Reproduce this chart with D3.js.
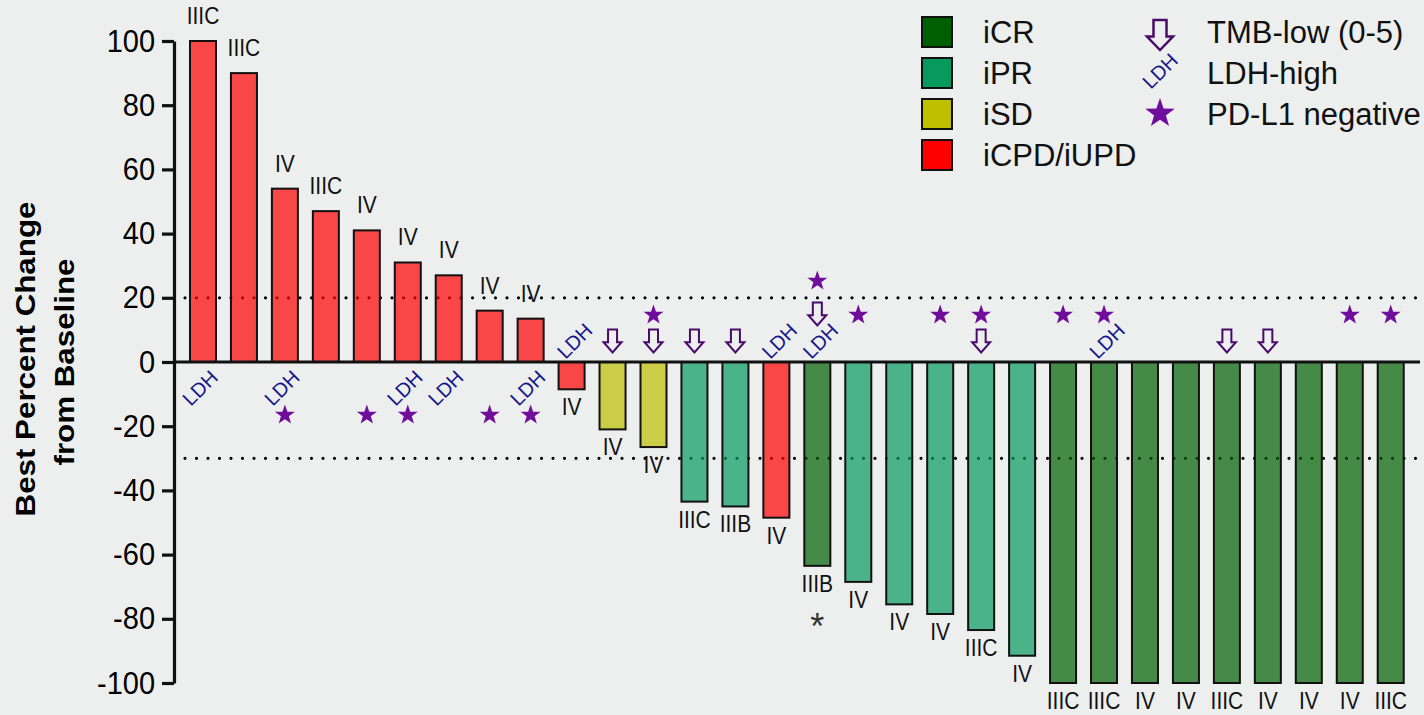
<!DOCTYPE html>
<html>
<head>
<meta charset="utf-8">
<script src="https://cdn.jsdelivr.net/npm/d3@7"></script>
<style>
  html, body { margin: 0; padding: 0; background: #ecefee; }
  svg { display: block; font-family: "Liberation Sans", Arial, Helvetica, sans-serif; }
</style>
</head>
<body>
<svg id="chart" width="1424" height="715"></svg>
<script>
// ---- data: best percent change per patient, sorted as in the waterfall ----
const bestChange = [100, 90, 54, 47, 41, 31, 27, 16, 13.5, -8.5,
                    -21, -26.5, -43.5, -45, -48.5, -63.5, -68.5, -75.5, -78.5, -83.5,
                    -91.5, -100, -100, -100, -100, -100, -100, -100, -100, -100];
const response = ["iCPD/iUPD", "iCPD/iUPD", "iCPD/iUPD", "iCPD/iUPD", "iCPD/iUPD",
                  "iCPD/iUPD", "iCPD/iUPD", "iCPD/iUPD", "iCPD/iUPD", "iCPD/iUPD",
                  "iSD", "iSD", "iPR", "iPR", "iCPD/iUPD",
                  "iCR", "iPR", "iPR", "iPR", "iPR",
                  "iPR", "iCR", "iCR", "iCR", "iCR",
                  "iCR", "iCR", "iCR", "iCR", "iCR"];
const stage = ["IIIC", "IIIC", "IV", "IIIC", "IV", "IV", "IV", "IV", "IV", "IV",
               "IV", "IV", "IIIC", "IIIB", "IV", "IIIB", "IV", "IV", "IV", "IIIC",
               "IV", "IIIC", "IIIC", "IV", "IV", "IIIC", "IV", "IV", "IV", "IIIC"];
const footnote = ["", "", "", "", "", "", "", "", "", "",
                  "", "", "", "", "", "*", "", "", "", "",
                  "", "", "", "", "", "", "", "", "", ""];
const ldhHigh = [1, 0, 1, 0, 0, 1, 1, 0, 1, 1,
                 0, 0, 0, 0, 1, 1, 0, 0, 0, 0,
                 0, 0, 1, 0, 0, 0, 0, 0, 0, 0];
const tmbLow  = [0, 0, 0, 0, 0, 0, 0, 0, 0, 0,
                 1, 1, 1, 1, 0, 1, 0, 0, 0, 1,
                 0, 0, 0, 0, 0, 1, 1, 0, 0, 0];
const pdl1Neg = [0, 0, 1, 0, 1, 1, 0, 1, 1, 0,
                 0, 1, 0, 0, 0, 1, 1, 0, 1, 1,
                 0, 1, 1, 0, 0, 0, 0, 0, 1, 1];
const yTicks = [100, 80, 60, 40, 20, 0, -20, -40, -60, -80, -100];
const thresholds = [20, -30];
const responseKeys = ["iCR", "iPR", "iSD", "iCPD/iUPD"];
const responseColors = ["#005f00", "#079a5e", "#bfbf00", "#ff0000"];

// ---- layout ----
const svg = d3.select("#chart");
svg.append("rect").attr("width", 1424).attr("height", 715).attr("fill", "#ecefee");

const axisX = 174;
const y = d3.scaleLinear().domain([-100, 100]).range([683, 41]);
const x = d3.scaleBand().domain(d3.range(bestChange.length))
  .range([177.7, 1416]).paddingInner(0.365).paddingOuter(0.3);
const color = d3.scaleOrdinal().domain(responseKeys).range(responseColors);
const y0 = y(0);
const cx = i => x(i) + x.bandwidth() / 2;

const ink = "#111";
const ldhColor = "#14148c";
const starColor = "#700e9c";
const arrowColor = "#4a0a6a";

// dotted reference lines (behind the translucent bars)
svg.append("g").selectAll("line").data(thresholds).join("line")
  .attr("x1", 185).attr("x2", 1420)
  .attr("y1", d => y(d)).attr("y2", d => y(d))
  .attr("stroke", "#000").attr("stroke-width", 3.2)
  .attr("stroke-linecap", "round").attr("stroke-dasharray", "0 11.5");

// bars
svg.append("g").selectAll("rect").data(bestChange).join("rect")
  .attr("x", (d, i) => x(i))
  .attr("width", x.bandwidth())
  .attr("y", d => Math.min(y(d), y0))
  .attr("height", d => Math.abs(y(d) - y0))
  .attr("fill", (d, i) => color(response[i]))
  .attr("fill-opacity", 0.7)
  .attr("stroke", ink).attr("stroke-width", 2);

// y axis
const yAxis = svg.append("g").attr("transform", `translate(${axisX},0)`)
  .call(d3.axisLeft(y).tickValues(yTicks).tickFormat(d => String(d))
    .tickSize(12).tickSizeOuter(0).tickPadding(7));
yAxis.select(".domain").attr("stroke", ink).attr("stroke-width", 3.2);
yAxis.selectAll(".tick line").attr("stroke", ink).attr("stroke-width", 3.2);
yAxis.selectAll(".tick text")
  .attr("font-size", 29).attr("fill", "#000")
  .attr("font-family", '"Liberation Sans", Arial, sans-serif')
  .attr("transform", "scale(1,1.08)");

// zero line
svg.append("line").attr("x1", axisX).attr("x2", 1420)
  .attr("y1", y0).attr("y2", y0)
  .attr("stroke", ink).attr("stroke-width", 3.2);

// y-axis title
const title = svg.append("g").attr("font-weight", "bold").attr("font-size", 27)
  .attr("text-anchor", "middle").attr("fill", "#000");
title.append("text").attr("transform", "translate(35,359) rotate(-90) scale(1.16,1)")
  .text("Best Percent Change");
title.append("text").attr("transform", "translate(74,362) rotate(-90) scale(1.16,1)")
  .text("from Baseline");

// stage labels
const stageG = svg.append("g").attr("font-size", 21).attr("text-anchor", "middle").attr("fill", "#111");
stage.forEach((s, i) => {
  const v = bestChange[i];
  const base = v >= 0 ? y(v) - 17 : y(v) + 26;
  stageG.append("text")
    .attr("transform", `translate(${cx(i)},${base}) scale(1,1.15)`)
    .text(s);
  if (footnote[i]) {
    stageG.append("text")
      .attr("transform", `translate(${cx(i)},${base + 47})`)
      .attr("font-size", 36).attr("fill", "#333")
      .text(footnote[i]);
  }
});

// marker shapes
function starPath(R) {
  const r = R * 0.4;
  const pts = [];
  for (let k = 0; k < 10; k++) {
    const a = -Math.PI / 2 + k * Math.PI / 5;
    const rr = k % 2 === 0 ? R : r;
    pts.push([rr * Math.cos(a), rr * Math.sin(a)]);
  }
  return "M" + pts.map(p => p[0].toFixed(2) + "," + p[1].toFixed(2)).join("L") + "Z";
}
function arrowPath(w, h) {
  const sw = w * 0.5, hh = h * 0.45;
  const t = -h / 2, b = h / 2, m = b - hh;
  return `M${-sw / 2},${t}L${sw / 2},${t}L${sw / 2},${m}L${w / 2},${m}L0,${b}L${-w / 2},${m}L${-sw / 2},${m}Z`;
}
function drawLDH(g, px, py) {
  g.append("text")
    .attr("transform", `translate(${px},${py}) rotate(-45)`)
    .attr("text-anchor", "middle").attr("dominant-baseline", "central")
    .attr("font-size", 20).attr("fill", ldhColor)
    .text("LDH");
}
function drawArrow(g, px, py, w, h, sw) {
  g.append("path").attr("d", arrowPath(w, h))
    .attr("transform", `translate(${px},${py})`)
    .attr("fill", "none").attr("stroke", arrowColor)
    .attr("stroke-width", sw).attr("stroke-linejoin", "miter");
}
function drawStar(g, px, py, R) {
  g.append("path").attr("d", starPath(R))
    .attr("transform", `translate(${px},${py + R * 0.1})`)
    .attr("fill", starColor);
}

// biomarker annotations near the zero line
const ann = svg.append("g");
const above = [y0 - 21, y0 - 48, y0 - 82];
const below = [y0 + 26, y0 + 52];
bestChange.forEach((v, i) => {
  const px = cx(i);
  if (v >= 0) {
    if (ldhHigh[i]) drawLDH(ann, px - 3, below[0]);
    if (pdl1Neg[i]) drawStar(ann, px, below[1], 10.5);
  } else {
    let slot = 0;
    if (ldhHigh[i]) { drawLDH(ann, px + 3, above[slot]); slot++; }
    if (tmbLow[i]) { drawArrow(ann, px, above[slot], 18, 23, 2); slot++; }
    if (pdl1Neg[i]) { drawStar(ann, px, above[Math.max(slot, 1)], 10.5); }
  }
});

// legend
const leg = svg.append("g");
responseKeys.forEach((k, i) => {
  leg.append("rect").attr("x", 922).attr("y", 17 + i * 41)
    .attr("width", 30).attr("height", 30)
    .attr("fill", color(k)).attr("stroke", ink).attr("stroke-width", 2);
  leg.append("text").attr("x", 983).attr("y", 43 + i * 41)
    .attr("font-size", 31).attr("fill", "#111").text(k);
});
drawArrow(leg, 1160, 35, 26, 30, 2.5);
leg.append("text")
  .attr("transform", "translate(1160,71) rotate(-45)")
  .attr("text-anchor", "middle").attr("dominant-baseline", "central")
  .attr("font-size", 20).attr("fill", ldhColor).text("LDH");
drawStar(leg, 1160, 112, 15.5);
["TMB-low (0-5)", "LDH-high", "PD-L1 negative"].forEach((t, i) => {
  leg.append("text").attr("x", 1207).attr("y", 43 + i * 41)
    .attr("font-size", 31).attr("fill", "#111").text(t);
});
</script>
</body>
</html>
